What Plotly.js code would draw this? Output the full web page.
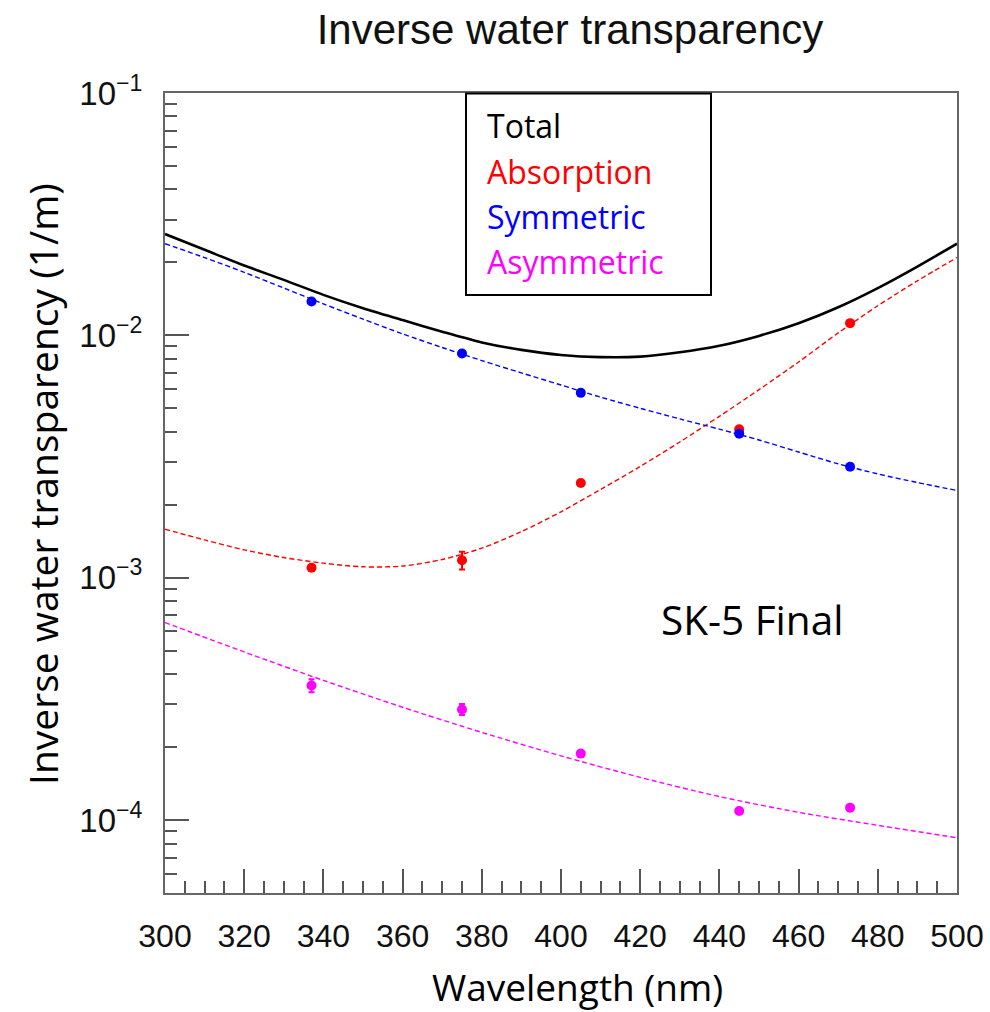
<!DOCTYPE html>
<html>
<head>
<meta charset="utf-8">
<script src="https://cdn.plot.ly/plotly-3.0.1.min.js"></script>
<style>
  html, body { margin: 0; padding: 0; background: #ffffff; }
  #chart { width: 990px; height: 1012px; }
</style>
</head>
<body>
<div id="chart"></div>
<script>
// Fitted curves (1/m) sampled along the wavelength axis (nm)
const fitWavelength = [300, 310, 320, 330, 340, 350, 360, 370, 380, 390, 400,
                       410, 420, 430, 440, 450, 460, 470, 480, 490, 500];
const totalFit = [0.02618, 0.02254, 0.01941, 0.01694, 0.01469, 0.01294, 0.01156,
                  0.01035, 0.00935, 0.00871, 0.00830, 0.00813, 0.00817, 0.00851,
                  0.00906, 0.00995, 0.01122, 0.01306, 0.01567, 0.01923, 0.02388];
const absorptionFit = [0.001585, 0.001432, 0.001303, 0.001211, 0.001148, 0.001109,
                       0.001117, 0.001189, 0.001324, 0.001549, 0.001871, 0.002312,
                       0.002877, 0.003631, 0.004634, 0.005970, 0.007762, 0.010233,
                       0.013243, 0.016788, 0.020941];
const symmetricFit = [0.02388, 0.02094, 0.01820, 0.01567, 0.01349, 0.01167, 0.01014,
                      0.00891, 0.00787, 0.00700, 0.00624, 0.00556, 0.00500, 0.00452,
                      0.00410, 0.00370, 0.00330, 0.00295, 0.00268, 0.00247, 0.00229];
const asymWavelength = [300, 320, 340, 360, 380, 400, 420, 440, 460, 480, 500];
const asymmetricFit = [0.000653, 0.000494, 0.000377, 0.000292, 0.000230, 0.000184,
                       0.000150, 0.000125, 0.0001076, 0.0000951, 0.0000845];

// Laser-injection measurements
const laserWavelength = [337, 375, 405, 445, 473];
const absorptionData = [0.00110, 0.00118, 0.00246, 0.00410, 0.01123];
const absorptionErr  = [0, 0.00010, 0, 0, 0];
const symmetricData  = [0.01379, 0.00841, 0.00579, 0.00393, 0.00287];
const asymmetricData = [0.000359, 0.000286, 0.000188, 0.000109, 0.0001125];
const asymmetricErr  = [0.000022, 0.000015, 0, 0, 0];

// Axis ticks
const xMajorTicks = [300, 320, 340, 360, 380, 400, 420, 440, 460, 480, 500];
const yMajorTicks = [1e-4, 1e-3, 1e-2, 1e-1];
const yTickText = ['10<sup>\u22124</sup>', '10<sup>\u22123</sup>', '10<sup>\u22122</sup>', '10<sup>\u22121</sup>'];
const legendNames = ['Total', 'Absorption', 'Symmetric', 'Asymmetric'];

const RED = '#ff0000', BLUE = '#0000ff', MAGENTA = '#ff00ff', BLACK = '#000000';
const rootFont = '"Liberation Sans", Arial, Helvetica, sans-serif';
const textFont = '"Open Sans", "Noto Sans", sans-serif';

// minor ticks of the log axis: 2..9 in every decade from 5e-5 up to 1e-1
const yMinorTicks = [];
[1e-5, 1e-4, 1e-3, 1e-2].forEach(function (dec) {
  for (let k = 2; k <= 9; k++) {
    const v = k * dec;
    if (v >= 5e-5 && v < 1e-1) yMinorTicks.push(v);
  }
});

function fitLine(x, y, color, dashed, width) {
  return {
    x: x, y: y, type: 'scatter', mode: 'lines', hoverinfo: 'skip',
    line: { color: color, width: width, dash: dashed ? '5px,3px' : 'solid', shape: 'spline', smoothing: 0.8 }
  };
}

function points(y, err, color) {
  const t = {
    x: laserWavelength, y: y, type: 'scatter', mode: 'markers',
    marker: { color: color, size: 10, symbol: 'circle' }
  };
  if (err) {
    t.error_y = { type: 'data', array: err, visible: true, color: color, thickness: 2, width: 3 };
  }
  return t;
}

const traces = [
  fitLine(fitWavelength, absorptionFit, RED, true, 1.4),
  fitLine(fitWavelength, symmetricFit, BLUE, true, 1.4),
  fitLine(asymWavelength, asymmetricFit, MAGENTA, true, 1.4),
  fitLine(fitWavelength, totalFit, BLACK, false, 2.6),
  points(absorptionData, absorptionErr, RED),
  points(symmetricData, null, BLUE),
  points(asymmetricData, asymmetricErr, MAGENTA)
];

const legendColors = [BLACK, RED, BLUE, MAGENTA];
const legendY = [125.5, 171.5, 216.5, 261.5];   // pixel rows of the legend entries
const px2x = function (p) { return (p - 165) / 792; };
const px2y = function (p) { return (893 - p) / 800; };

const annotations = legendNames.map(function (name, i) {
  return {
    text: name, xref: 'paper', yref: 'paper',
    x: px2x(485), y: px2y(legendY[i]), xanchor: 'left', yanchor: 'middle',
    showarrow: false, font: { family: textFont, size: 32, color: legendColors[i] }
  };
});
annotations.push({
  text: 'SK-5 Final', xref: 'paper', yref: 'paper',
  x: px2x(752), y: px2y(619), xanchor: 'center', yanchor: 'middle',
  showarrow: false, font: { family: textFont, size: 40.5, color: '#000' }
});
annotations.push({
  text: 'Inverse water transparency (1/m)', xref: 'paper', yref: 'paper',
  x: px2x(42), y: px2y(484), xanchor: 'center', yanchor: 'middle', textangle: -90,
  showarrow: false, font: { family: textFont, size: 39, color: '#000' }
});
annotations.push({
  text: 'Wavelength (nm)', xref: 'paper', yref: 'paper',
  x: px2x(577), y: px2y(986), xanchor: 'center', yanchor: 'middle',
  showarrow: false, font: { family: textFont, size: 37, color: '#000' }
});

const layout = {
  width: 990, height: 1012,
  margin: { l: 165, r: 33, t: 93, b: 119, pad: 0 },
  paper_bgcolor: '#ffffff', plot_bgcolor: '#ffffff',
  showlegend: false,
  title: {
    text: 'Inverse water transparency',
    x: 570 / 990, xanchor: 'center', xref: 'container',
    y: 1 - 29 / 1012, yanchor: 'middle', yref: 'container',
    font: { family: rootFont, size: 42, color: '#111' }
  },
  xaxis: {
    range: [300, 500], tickmode: 'array', tickvals: xMajorTicks,
    ticks: 'inside', ticklen: 24, tickwidth: 2, tickcolor: '#555',
    showline: true, linecolor: '#666', linewidth: 2, mirror: true,
    showgrid: false, zeroline: false, ticklabelstandoff: 14,
    tickfont: { family: rootFont, size: 32, color: '#111' },
    minor: { tickmode: 'linear', tick0: 300, dtick: 5, ticks: 'inside', ticklen: 12, tickwidth: 2, tickcolor: '#555', showgrid: false }
  },
  yaxis: {
    type: 'log', range: [Math.log10(5e-5), -1],
    tickmode: 'array', tickvals: yMajorTicks, ticktext: yTickText,
    ticks: 'inside', ticklen: 24, tickwidth: 2, tickcolor: '#555',
    showline: true, linecolor: '#666', linewidth: 2, mirror: true,
    showgrid: false, zeroline: false, ticklabelstandoff: 14,
    tickfont: { family: rootFont, size: 33, color: '#111' },
    minor: { tickmode: 'array', tickvals: yMinorTicks, ticks: 'inside', ticklen: 12, tickwidth: 2, tickcolor: '#555', showgrid: false }
  },
  shapes: [{
    type: 'rect', xref: 'paper', yref: 'paper',
    x0: px2x(466), x1: px2x(711), y0: px2y(295), y1: px2y(93.5),
    line: { color: '#000', width: 2 }, fillcolor: 'rgba(255,255,255,0)'
  }],
  annotations: annotations
};

Plotly.newPlot('chart', traces, layout, { staticPlot: true, displayModeBar: false });
</script>
</body>
</html>
